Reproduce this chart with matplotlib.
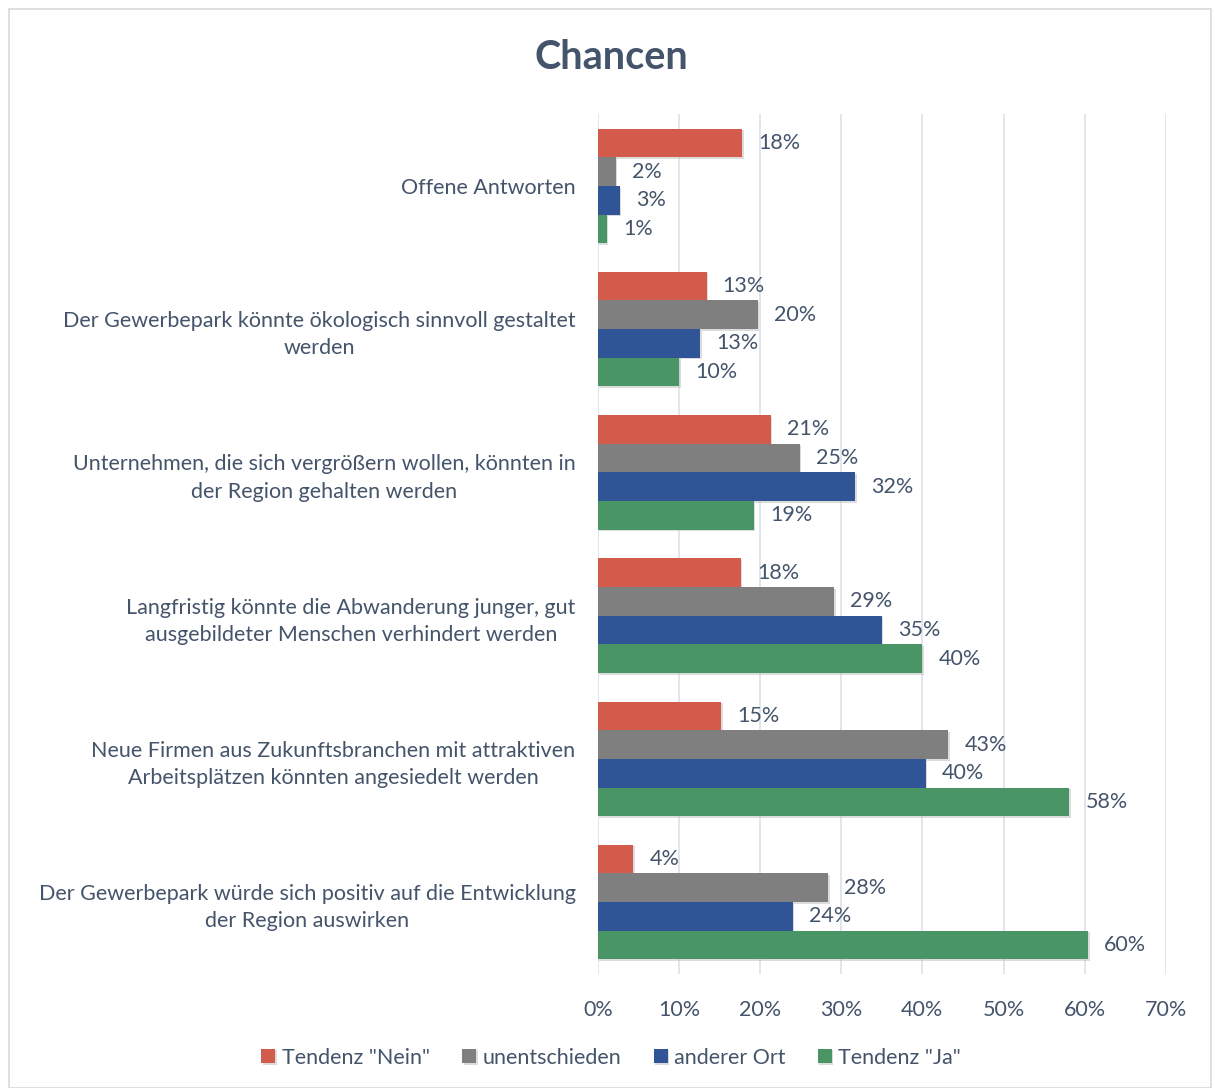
import numpy as np
import matplotlib.pyplot as plt
from matplotlib.patches import Rectangle
import matplotlib.patheffects as pe

plt.rcParams['font.family'] = ['Lato', 'DejaVu Sans']

categories = [
    "Offene Antworten",
    "Der Gewerbepark könnte ökologisch sinnvoll gestaltet\nwerden",
    "Unternehmen, die sich vergrößern wollen, könnten in\nder Region gehalten werden",
    "Langfristig könnte die Abwanderung junger, gut\nausgebildeter Menschen verhindert werden",
    "Neue Firmen aus Zukunftsbranchen mit attraktiven\nArbeitsplätzen könnten angesiedelt werden",
    "Der Gewerbepark würde sich positiv auf die Entwicklung\nder Region auswirken",
]
series_names = ['Tendenz "Nein"', 'unentschieden', 'anderer Ort', 'Tendenz "Ja"']
nein = [0.178, 0.134, 0.213, 0.176, 0.152, 0.044]
unent = [0.022, 0.197, 0.249, 0.291, 0.432, 0.284]
anderer = [0.027, 0.126, 0.317, 0.350, 0.404, 0.240]
ja = [0.011, 0.100, 0.192, 0.400, 0.581, 0.604]
colors = ['#D35B4B', '#7F7F7F', '#2F5597', '#4A9566']
text_col = '#44546A'

fig = plt.figure(figsize=(12.15, 10.88), dpi=100)
ax = fig.add_axes([0.492, 0.105, 0.4675, 0.79])
fig.patches.append(Rectangle((0.007, 0.0), 0.99, 0.992, transform=fig.transFigure,
                             fill=False, edgecolor='#D9D9D9', lw=1.2))

n = len(categories)
y = np.arange(n)
h = 0.2
shadow = [pe.SimplePatchShadow(offset=(1.2, -1.2), shadow_rgbFace='#BBBBBB', alpha=0.5), pe.Normal()]
for i, (vals, c) in enumerate(zip([nein, unent, anderer, ja], colors)):
    pos = y - 0.3 + i * h
    bars = ax.barh(pos, vals, height=h, color=c, label=series_names[i], zorder=3)
    for b in bars:
        b.set_path_effects(shadow)
    for p, v in zip(pos, vals):
        ax.text(v + 0.02, p, f"{v*100:.0f}%", va='center', ha='left',
                fontsize=15.5, color=text_col)

ax.set_ylim(n - 0.5, -0.5)
ax.set_xlim(0, 0.7)
ax.set_xticks(np.arange(0, 0.71, 0.1))
ax.set_xticklabels([f"{t}%" for t in range(0, 71, 10)])
ax.set_yticks(y)
ax.set_yticklabels(categories, multialignment='center', linespacing=1.45)
ax.tick_params(axis='both', length=0, labelsize=15.5, labelcolor=text_col)
ax.tick_params(axis='x', pad=19)
ax.tick_params(axis='y', pad=16)
ax.grid(axis='x', color='#D9E1EA', lw=1.2, zorder=0)
for s in ax.spines.values():
    s.set_visible(False)

fig.suptitle('Chancen', x=0.503, y=0.964, fontsize=28.5, fontweight='bold', color=text_col)

leg = fig.legend(loc='center', bbox_to_anchor=(0.503, 0.028), ncol=4, frameon=False,
                 fontsize=15.5, handlelength=0.65, handleheight=0.65, handletextpad=0.3,
                 columnspacing=1.5)
for t in leg.get_texts():
    t.set_color(text_col)

fig.savefig('out.png', dpi=100)
